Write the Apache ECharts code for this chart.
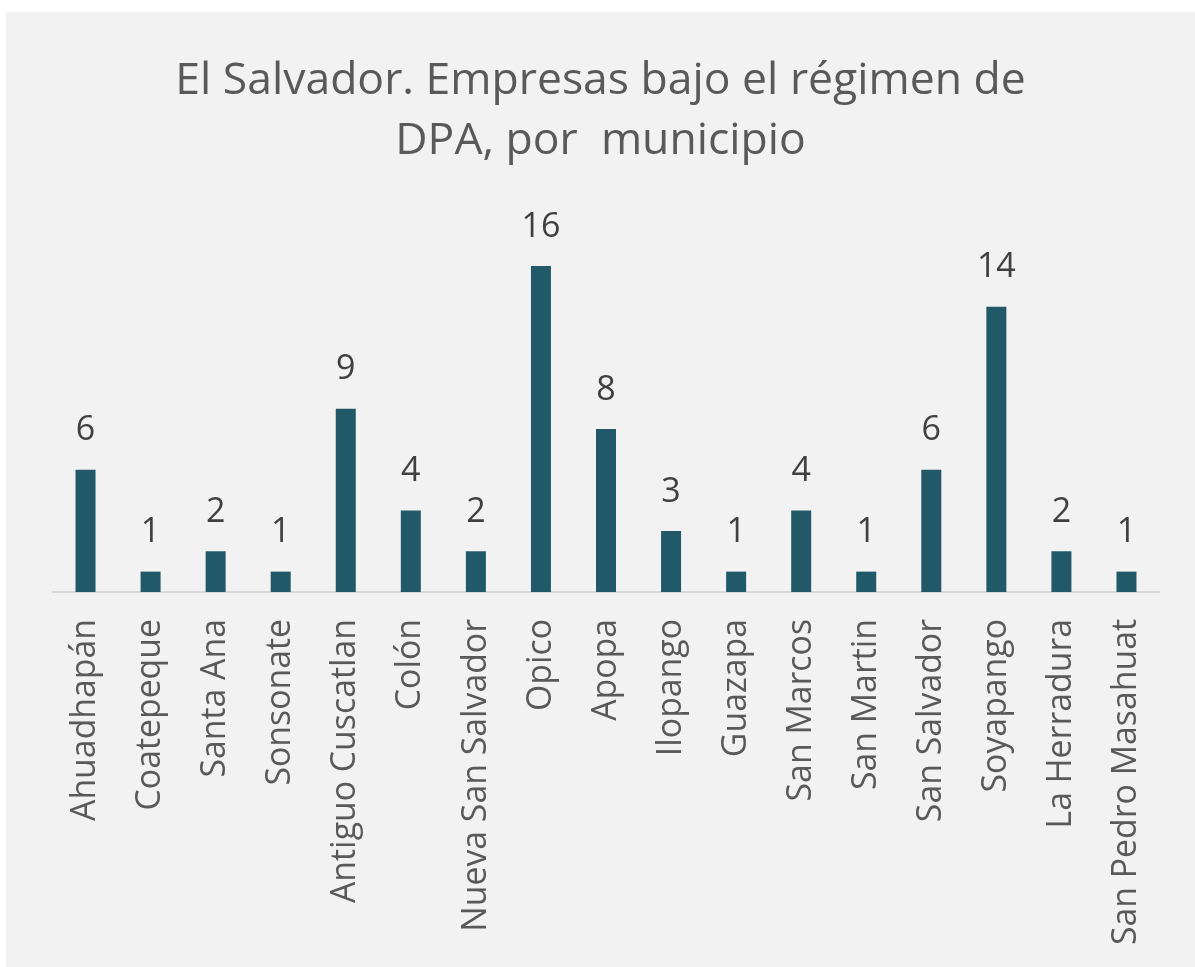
<html>
<head>
<script src="https://cdn.jsdelivr.net/npm/echarts@6/dist/echarts.min.js"></script>
<style>
    body { margin: 0; padding: 0; background: #ffffff; }
    #chart {
        position: absolute;
        left: 6px;
        top: 12px;
        width: 1189px;
        height: 955px;
        background: #f2f2f2;
    }
</style>
</head>
<body>
<div id="chart"></div>
<script type="text/javascript">
    var municipios = ['Ahuadhapán', 'Coatepeque', 'Santa Ana', 'Sonsonate', 'Antiguo Cuscatlan', 'Colón',
        'Nueva San Salvador', 'Opico', 'Apopa', 'Ilopango', 'Guazapa', 'San Marcos', 'San Martin',
        'San Salvador', 'Soyapango', 'La Herradura', 'San Pedro Masahuat'];
    var empresas = [6, 1, 2, 1, 9, 4, 2, 16, 8, 3, 1, 4, 1, 6, 14, 2, 1];

    var chart = echarts.init(document.getElementById('chart'));
    var option = {
        backgroundColor: '#f2f2f2',
        animation: false,
        title: {
            text: 'El Salvador. Empresas bajo el régimen de\nDPA, por  municipio',
            left: 'center',
            top: 34,
            textStyle: {
                fontFamily: 'Open Sans',
                fontWeight: 'normal',
                fontSize: 44.5,
                lineHeight: 60,
                color: '#595959'
            }
        },
        grid: { left: 47, right: 36, top: 254, bottom: 375 },
        xAxis: {
            type: 'category',
            data: municipios,
            axisLine: { lineStyle: { color: '#d9d9d9', width: 2 } },
            axisTick: { show: false },
            axisLabel: {
                rotate: 90,
                interval: 0,
                margin: 27,
                fontFamily: 'Open Sans',
                fontSize: 33.8,
                color: '#595959'
            }
        },
        yAxis: {
            type: 'value',
            min: 0,
            max: 16,
            show: false,
            splitLine: { show: false }
        },
        series: [{
            type: 'bar',
            data: empresas,
            barWidth: 20,
            itemStyle: { color: '#215968' },
            label: {
                show: true,
                position: 'top',
                distance: 22,
                fontFamily: 'Open Sans',
                fontSize: 34,
                color: '#404040'
            }
        }]
    };
    chart.setOption(option);
</script>
</body>
</html>
